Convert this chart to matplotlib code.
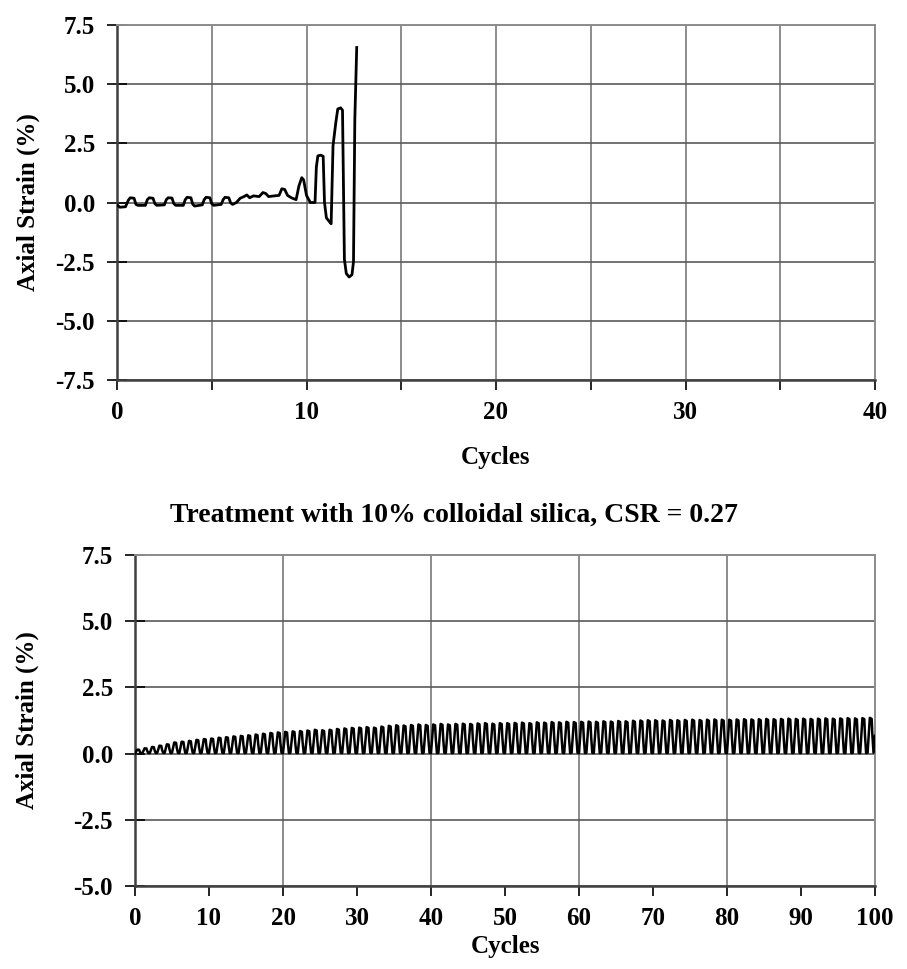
from matplotlib import pyplot as plt
from matplotlib.ticker import MultipleLocator, FormatStrFormatter

# upper test: untreated sample, trace
top_cycles = [0.0, 0.15, 0.45, 0.6, 0.7, 0.9, 1.0, 1.1, 1.5, 1.6, 1.7, 1.9, 2.0, 2.1,
              2.5, 2.6, 2.7, 2.9, 3.0, 3.1, 3.5, 3.6, 3.7, 3.9, 4.0, 4.1, 4.5, 4.6,
              4.7, 4.9, 5.0, 5.1, 5.5, 5.6, 5.7, 5.9, 6.0, 6.1, 6.3, 6.5, 6.7, 6.85,
              7.0, 7.2, 7.5, 7.7, 7.85, 8.0, 8.3, 8.55, 8.7, 8.85, 9.0, 9.2, 9.45,
              9.6, 9.75, 9.85, 10.0, 10.2, 10.45, 10.52, 10.6, 10.75, 10.88, 10.95,
              11.05, 11.2, 11.3, 11.4, 11.55, 11.65, 11.8, 11.9, 12.0, 12.1, 12.25,
              12.4, 12.48, 12.55, 12.65]
top_strain = [-0.1, -0.2, -0.18, 0.1, 0.2, 0.18, -0.08, -0.12, -0.12, 0.12, 0.2, 0.18, -0.05, -0.12,
              -0.1, 0.12, 0.2, 0.19, -0.05, -0.12, -0.12, 0.12, 0.22, 0.2, -0.08, -0.15, -0.1, 0.12,
              0.22, 0.2, -0.05, -0.12, -0.08, 0.12, 0.22, 0.2, -0.02, -0.08, 0.0, 0.18, 0.25, 0.32,
              0.2, 0.28, 0.25, 0.42, 0.38, 0.25, 0.28, 0.3, 0.58, 0.55, 0.3, 0.2, 0.12,
              0.7, 1.05, 0.95, 0.3, 0.0, 0.0, 1.5, 1.97, 2.0, 1.95, 0.0,
              -0.65, -0.8, -0.9, 2.4, 3.4, 3.95, 4.0, 3.9, -2.4, -3.0, -3.15,
              -3.05, -2.5, 3.5, 6.55]

# lower test: 10% colloidal silica, one peak / trough per cycle
bot_peaks = [0.15, 0.2, 0.25, 0.3, 0.35, 0.42, 0.45, 0.48, 0.52, 0.55,
             0.57, 0.6, 0.62, 0.65, 0.67, 0.69, 0.72, 0.75, 0.78, 0.8,
             0.82, 0.84, 0.85, 0.87, 0.9, 0.88, 0.9, 0.93, 0.95, 0.97,
             0.98, 1.0, 0.98, 1.02, 1.05, 1.07, 1.06, 1.08, 1.1, 1.08,
             1.1, 1.12, 1.1, 1.12, 1.13, 1.12, 1.14, 1.15, 1.13, 1.15,
             1.15, 1.16, 1.17, 1.15, 1.18, 1.17, 1.19, 1.18, 1.2, 1.19,
             1.2, 1.21, 1.2, 1.22, 1.21, 1.23, 1.22, 1.24, 1.25, 1.26,
             1.26, 1.25, 1.27, 1.26, 1.27, 1.28, 1.27, 1.28, 1.29, 1.28,
             1.28, 1.29, 1.3, 1.29, 1.3, 1.31, 1.3, 1.31, 1.32, 1.31,
             1.32, 1.31, 1.32, 1.33, 1.32, 1.33, 1.34, 1.33, 1.34, 1.35]
bot_troughs = [0.0, 0.02, 0.02, 0.03, 0.02, 0.03, 0.02, 0.03, 0.02, 0.03,
               0.02, 0.03, 0.02, 0.03, 0.02, 0.03, 0.02, 0.03, 0.02, 0.03,
               0.02, 0.03, 0.02, 0.03, 0.02, 0.03, 0.02, 0.03, 0.02, 0.03,
               0.02, 0.03, 0.02, 0.03, 0.02, 0.03, 0.02, 0.03, 0.02, 0.03,
               0.02, 0.03, 0.02, 0.03, 0.02, 0.03, 0.02, 0.03, 0.02, 0.03,
               0.02, 0.03, 0.02, 0.03, 0.02, 0.03, 0.02, 0.03, 0.02, 0.03,
               0.02, 0.03, 0.02, 0.03, 0.02, 0.03, 0.02, 0.03, 0.02, 0.03,
               0.02, 0.03, 0.02, 0.03, 0.02, 0.03, 0.02, 0.03, 0.02, 0.03,
               0.02, 0.03, 0.02, 0.03, 0.02, 0.03, 0.02, 0.03, 0.02, 0.03,
               0.02, 0.03, 0.02, 0.03, 0.02, 0.03, 0.02, 0.03, 0.02, 0.03]

title_bot = "Treatment with 10% colloidal silica, CSR = 0.27"

plt.rcParams['font.family'] = ['Liberation Serif', 'DejaVu Serif']
plt.rcParams['font.weight'] = 'bold'

fig = plt.figure(figsize=(9.07, 9.69), dpi=100)
W, H = 907.0, 969.0
ax1 = fig.add_axes([117 / W, 1 - 380 / H, (875 - 117) / W, (380 - 25) / H])
ax2 = fig.add_axes([135 / W, 1 - 886 / H, (875 - 135) / W, (886 - 555) / H])

# build the lower trace from the per-cycle peaks
bx, by = [], []
for i in range(len(bot_peaks)):
    bx += [i, i + 0.3, i + 0.55, i + 0.65, i + 0.8]
    by += [bot_troughs[i], bot_peaks[i], bot_peaks[i] * 0.97, bot_peaks[i] * 0.5, bot_troughs[i]]
bx.append(len(bot_peaks))
by.append(bot_peaks[-1] * 0.5)

ax1.plot(top_cycles, top_strain, color='black', lw=2.0, zorder=3)
ax2.plot(bx, by, color='black', lw=1.8, zorder=3)

def style(ax, xmax, xmaj, xminor, xgrid, ymin, label_x):
    ax.set_xlim(0, xmax)
    ax.set_ylim(ymin, 7.5)
    ax.xaxis.set_major_locator(MultipleLocator(xmaj))
    ax.xaxis.set_minor_locator(MultipleLocator(xminor))
    ax.yaxis.set_major_locator(MultipleLocator(2.5))
    ax.yaxis.set_major_formatter(FormatStrFormatter('%.1f'))
    for v in range(0, xmax + 1, xgrid):
        ax.axvline(v, color='#8c8c8c', lw=1.4, zorder=1)
    for v in range(int(ymin * 2), 16, 5):
        ax.axhline(v / 2.0, color='#5a5a5a', lw=1.2, zorder=1)
    for s in ['top', 'right']:
        ax.spines[s].set_color('#8c8c8c')
        ax.spines[s].set_linewidth(1.4)
    for s in ['left', 'bottom']:
        ax.spines[s].set_color('#404040')
        ax.spines[s].set_linewidth(1.8)
    ax.tick_params(axis='y', direction='inout', length=14, width=1.2, labelsize=18, pad=9)
    ax.tick_params(axis='x', which='both', direction='out', length=7, width=1.2, labelsize=18, pad=8)
    ax.tick_params(axis='x', which='minor', labelbottom=False)
    for lab in ax.get_xticklabels() + ax.get_yticklabels():
        lab.set_fontweight('bold')
    ax.set_ylabel('Axial Strain (%)', fontsize=18, fontweight='bold')
    ax.yaxis.set_label_coords(label_x, 0.5)

style(ax1, 40, 10, 5, 5, -7.5, (40 - 117) / 758.0)
style(ax2, 100, 10, 10, 20, -5.0, (39 - 135) / 740.0)

ax1.set_xlabel('Cycles', fontsize=18, fontweight='bold', labelpad=16)
ax2.set_xlabel('Cycles', fontsize=18, fontweight='bold', labelpad=4)
fig.text(0.5, 1 - 515 / H, title_bot, fontsize=20, fontweight='bold', ha='center', va='center')

plt.savefig('out.png', dpi=100)
